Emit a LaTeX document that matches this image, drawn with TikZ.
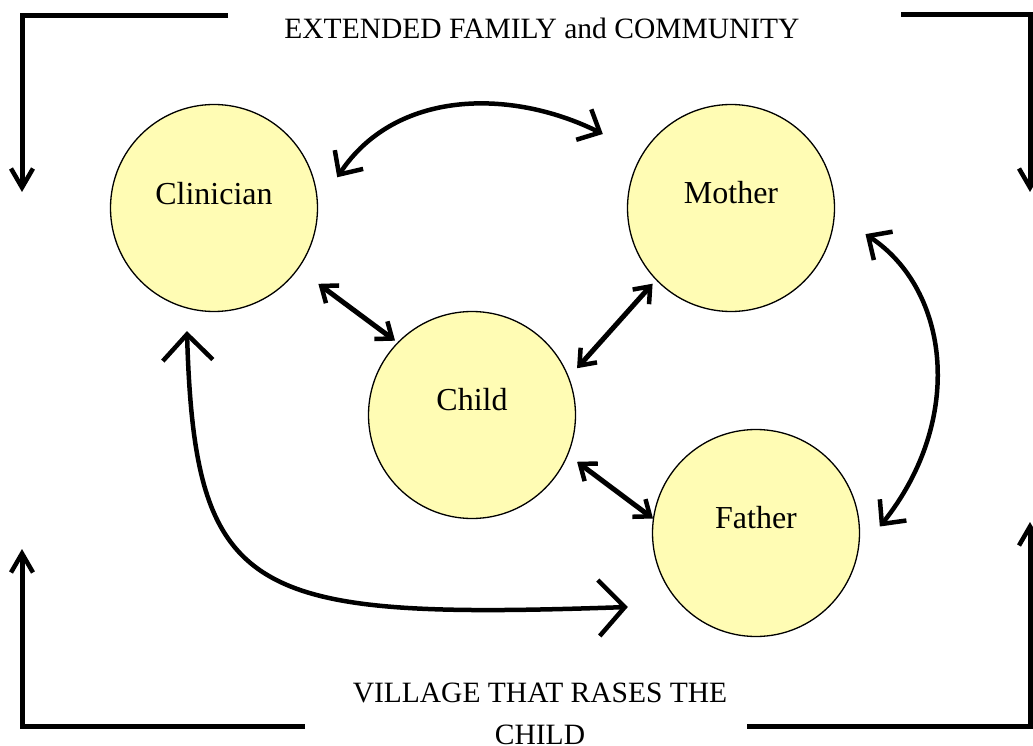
\documentclass[tikz,border=0pt]{standalone}
\usepackage{fontspec}
\setmainfont{Liberation Serif}
\usetikzlibrary{arrows.meta,calc}
\definecolor{circfill}{RGB}{255,252,180}
\begin{document}
\begin{tikzpicture}[x=1pt,y=1pt,
  person/.style={circle,draw=black,line width=1.3pt,fill=circfill,minimum size=207pt,inner sep=0pt},
  lbl/.style={font=\fontsize{32}{36}\selectfont,inner sep=0pt},
  ttl/.style={font=\fontsize{29.5}{42}\selectfont,inner sep=0pt},
  frameline/.style={line width=5pt,line join=miter,-{Straight Barb[length=19pt,width=22pt,line width=4.5pt]}},
  dbl/.style={line width=5pt,{Straight Barb[length=14pt,width=22pt,line width=4.5pt]}-{Straight Barb[length=14pt,width=22pt,line width=4.5pt]}},
  bigcurve/.style={line width=4.5pt,{Straight Barb[length=26pt,width=50pt,line width=4.5pt]}-{Straight Barb[length=26pt,width=56pt,line width=4.5pt]}},
  midcurve/.style={line width=4.5pt,{Straight Barb[length=18pt,width=34pt,line width=4.5pt]}-{Straight Barb[length=18pt,width=34pt,line width=4.5pt]}}
]
\useasboundingbox (0,0) rectangle (1033,-746);

% frame corners
\coordinate (tl1) at (228,-16); \coordinate (tl0) at (22,-16); \coordinate (tl2) at (22,-192);
\coordinate (tr1) at (901,-15); \coordinate (tr0) at (1030,-15); \coordinate (tr2) at (1030,-192);
\coordinate (bl1) at (305,-726); \coordinate (bl0) at (22,-726); \coordinate (bl2) at (22,-549);
\coordinate (br1) at (747,-726); \coordinate (br0) at (1030,-726); \coordinate (br2) at (1030,-522);
\draw[frameline] (tl1) -- (tl0) -- (tl2);
\draw[frameline] (tr1) -- (tr0) -- (tr2);
\draw[frameline] (bl1) -- (bl0) -- (bl2);
\draw[frameline] (br1) -- (br0) -- (br2);

% titles
\node[ttl] (title) at (542,-28) {EXTENDED FAMILY and COMMUNITY};
\node[ttl,align=center] (village) at (540,-714) {VILLAGE THAT RASES THE\\CHILD};

% circles
\node[person] (clin) at (214,-208) {};
\node[person] (mother) at (731,-208) {};
\node[person] (child) at (472,-415) {};
\node[person] (father) at (756,-533) {};
\node[lbl] (clinT) at ($(clin)+(0,14)$) {Clinician};
\node[lbl] (motherT) at ($(mother)+(0,15)$) {Mother};
\node[lbl] (childT) at ($(child)+(0,15)$) {Child};
\node[lbl] (fatherT) at ($(father)+(0,15)$) {Father};

% straight double arrows
\draw[dbl] ($(clin)+(-36:129)$) -- ($(child)+(136:107)$);
\draw[dbl] ($(child)+(24:115)$) -- ($(mother)+(224:109)$);
\draw[dbl] ($(child)+(-24:115)$) -- ($(father)+(172:104)$);

% curved arrows
\draw[midcurve] ($(clin)+(14:127)$) .. controls (395,-90) and (510,-88) .. ($(mother)+(150:148)$);
\draw[midcurve] ($(mother)+(-11:137)$) .. controls (950,-290) and (965,-420) .. ($(father)+(3:124)$);
\draw[bigcurve] ($(clin)+(257.6:126)$) .. controls (195,-600) and (250,-620) .. ($(father)+(210:148)$);
\end{tikzpicture}
\end{document}
